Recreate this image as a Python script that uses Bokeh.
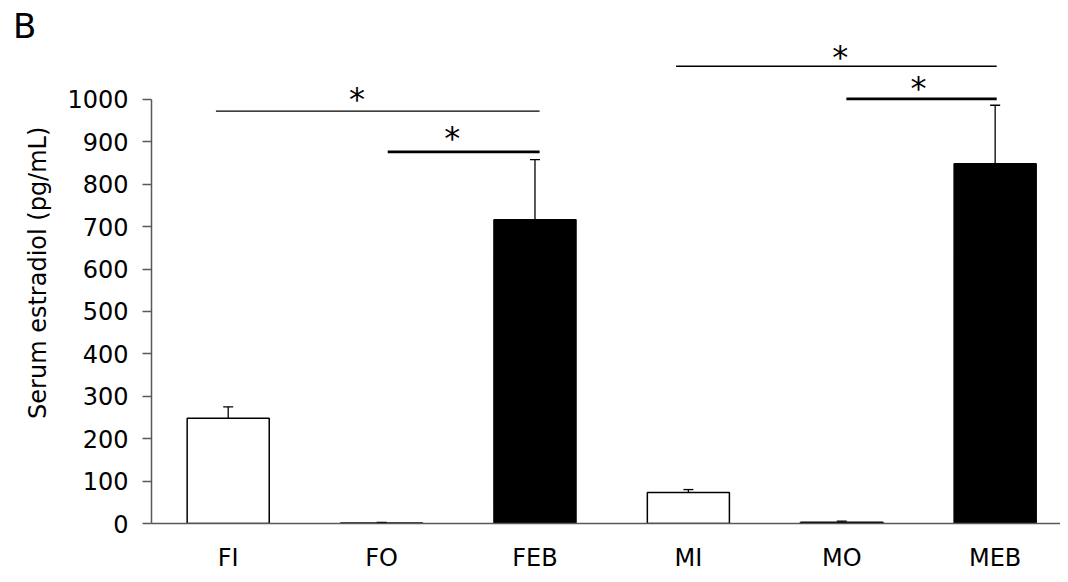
from bokeh.plotting import figure
from bokeh.models import Range1d, FixedTicker, Whisker, TeeHead, ColumnDataSource, Div
from bokeh.layouts import column
from bokeh.core.properties import value
from bokeh.embed import file_html
from bokeh.resources import INLINE

# ---- data ----
groups = ["FI", "FO", "FEB", "MI", "MO", "MEB"]
serum_e2 = [248, 1, 716, 73, 3, 848]
sem = [27, 1.5, 142, 7, 2.5, 138]
y_ticks = [0, 100, 200, 300, 400, 500, 600, 700, 800, 900, 1000]

# significance brackets: start group + offset, end group + offset, height
sig_g0 = ["FI", "FO", "MI", "MO"]
sig_o0 = [-0.08, 0.04, -0.08, 0.03]
sig_g1 = ["FEB", "FEB", "MEB", "MEB"]
sig_o1 = [0.03, 0.03, 0.01, 0.01]
sig_y = [972, 876, 1078, 1001]
sig_width = [1.3, 2.8, 1.3, 2.8]
star_g = ["FO", "FO", "MO", "MO"]
star_o = [-0.16, 0.46, -0.01, 0.50]
star_y = [1000, 910, 1099, 1026]
star_text = ["*", "*", "*", "*"]

bar_fill = ["white", "white", "black", "white", "white", "black"]

AX = "#595959"
FONT = "DejaVu Sans"

xpos = [i + 1 for i in range(len(groups))]
pos = dict(zip(groups, xpos))

panel_label = Div(
    text='<div style="font-family:\'DejaVu Sans\';font-size:34px;line-height:34px;'
         'margin:0;padding:9px 0 0 13px;color:black;">B</div>',
    width=1060, height=14, margin=0, styles={"overflow": "visible"})

p = figure(x_range=Range1d(0.5, 6.426), y_range=Range1d(0, 1200),
           width=1060, height=560, output_backend="svg", toolbar_location=None,
           min_border_left=151, min_border_right=0, min_border_top=0,
           min_border_bottom=51)
p.outline_line_color = None
p.grid.grid_line_color = None
p.background_fill_color = "white"
p.border_fill_color = None

src = ColumnDataSource(dict(x=xpos, v=serum_e2, fill=bar_fill,
                            up=[a + b for a, b in zip(serum_e2, sem)]))
p.vbar(x="x", top="v", width=0.535, source=src, fill_color="fill",
       line_color="black", line_width=1.5)

wh = Whisker(base="x", lower="v", upper="up", source=src, dimension="height",
             line_color="black", line_width=1.3,
             upper_head=TeeHead(size=10, line_color="black", line_width=1.3),
             lower_head=None)
p.add_layout(wh)

p.segment(x0=[pos[g] + o for g, o in zip(sig_g0, sig_o0)],
          x1=[pos[g] + o for g, o in zip(sig_g1, sig_o1)],
          y0=sig_y, y1=sig_y, line_color="black", line_width=sig_width)
p.text(x=[pos[g] + o for g, o in zip(star_g, star_o)], y=star_y,
       text=star_text, text_font=value(FONT),
       text_font_size="32px", text_align="center", text_baseline="alphabetic",
       text_color="black")

# y axis
ya = p.yaxis[0]
ya.ticker = FixedTicker(ticks=y_ticks)
ya.bounds = (0, 1000)
ya.axis_line_color = AX
ya.axis_line_width = 1.5
ya.major_tick_line_color = AX
ya.major_tick_line_width = 1.5
ya.major_tick_out = 9
ya.major_tick_in = 0
ya.minor_tick_line_color = None
ya.major_label_text_font = FONT
ya.major_label_text_font_size = "24px"
ya.major_label_text_color = "black"
ya.major_label_standoff = 14
ya.axis_label = "Serum estradiol  (pg/mL)"
ya.axis_label_text_font = FONT
ya.axis_label_text_font_size = "24px"
ya.axis_label_text_font_style = "normal"
ya.axis_label_text_color = "black"
ya.axis_label_standoff = 12

# x axis
xa = p.xaxis[0]
xa.ticker = FixedTicker(ticks=xpos)
xa.major_label_overrides = {x: g for x, g in zip(xpos, groups)}
xa.axis_line_color = AX
xa.axis_line_width = 1.5
xa.major_tick_line_color = None
xa.major_tick_out = 0
xa.major_tick_in = 0
xa.minor_tick_line_color = None
xa.major_label_text_font = FONT
xa.major_label_text_font_size = "24px"
xa.major_label_text_color = "black"
xa.major_label_standoff = 20

layout = column(panel_label, p, spacing=0)
open("out.html", "w").write(file_html(layout, INLINE))
